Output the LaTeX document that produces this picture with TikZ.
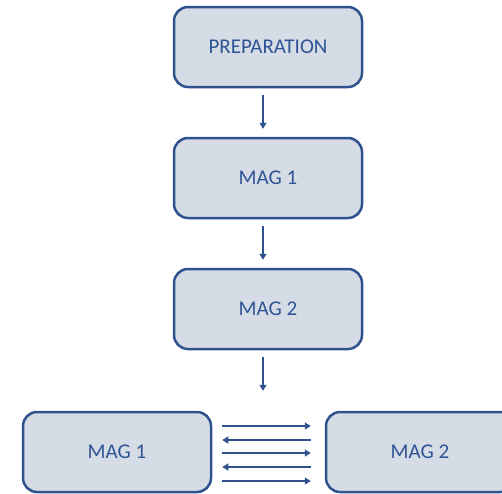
\documentclass[tikz,border=0pt]{standalone}
\usepackage{fontspec}
\setmainfont{Carlito}
\usetikzlibrary{arrows.meta}
\definecolor{boxfill}{RGB}{214,220,229}
\definecolor{boxline}{RGB}{47,82,143}
\definecolor{boxtext}{RGB}{47,84,150}
\tikzset{
  magbox/.style={draw=boxline, fill=boxfill, line width=1.25pt, rounded corners=7pt,
    minimum width=94pt, minimum height=40pt, text=boxtext,
    font=\fontsize{10.5}{12}\selectfont},
  flow/.style={draw=boxline, line width=0.6pt, -{Triangle[length=3pt,width=3.5pt]}}
}

\begin{document}
\begin{tikzpicture}[x=0.5pt,y=-0.5pt]
        \useasboundingbox (0,0) rectangle (502,493);
        \clip (0,0) rectangle (502,493);
        % Boxes
        \node[magbox] (prep) at (268,47) {PREPARATION};
        \node[magbox] (magA) at (268,178) {MAG 1};
        \node[magbox] (magB) at (268,309) {MAG 2};
        \node[magbox] (left) at (117,452) {MAG 1};
        \node[magbox] (right) at (420,452) {MAG 2};
        % Arrows down
        \draw[flow] ([xshift=-2.5pt,yshift=-3.5pt]prep.south) -- ([xshift=-2.5pt,yshift=4pt]magA.north);
        \draw[flow] ([xshift=-2.5pt,yshift=-3.5pt]magA.south) -- ([xshift=-2.5pt,yshift=4pt]magB.north);
        \draw[flow] ([xshift=-2.5pt,yshift=-3.5pt]magB.south) -- ([xshift=-2.5pt,yshift=10pt]left.north -| magB.south);
        % Arrows between
        \foreach \s in {13,-0.5,-14.5}
            \draw[flow] ([xshift=5pt,yshift=\s pt]left.east) -- ([xshift=-7pt,yshift=\s pt]right.west);
        \foreach \s in {6,-7.5}
            \draw[flow] ([xshift=-7pt,yshift=\s pt]right.west) -- ([xshift=5pt,yshift=\s pt]left.east);
    \end{tikzpicture}
\end{document}
